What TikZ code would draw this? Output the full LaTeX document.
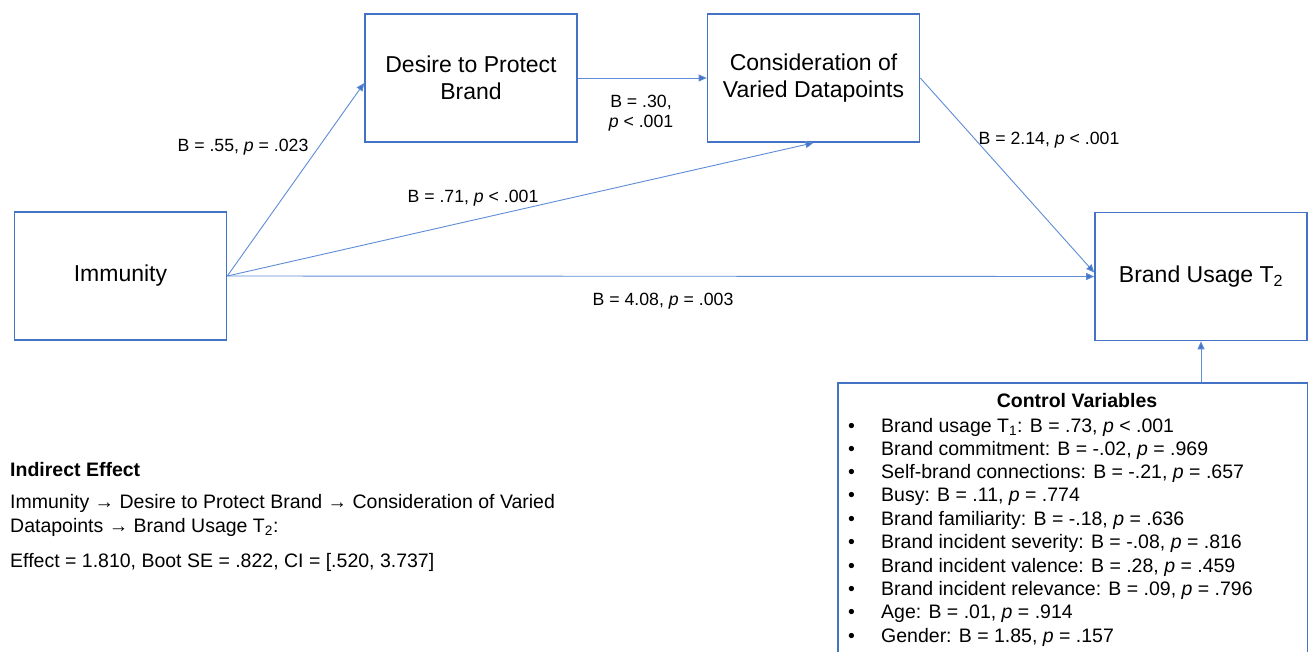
\documentclass[tikz,border=0pt]{standalone}
\usepackage{fontspec}
\setmainfont{Liberation Sans}
\usetikzlibrary{arrows.meta,calc}
\definecolor{boxblue}{RGB}{68,114,196}
\definecolor{lineblue}{RGB}{95,140,215}
\begin{document}
\begin{tikzpicture}[x=1pt,y=-1pt,
 box/.style={draw=boxblue,line width=1.6pt,minimum width=212pt,minimum height=128pt,align=center,font=\fontsize{23}{27}\selectfont,inner sep=0pt},
 link/.style={draw=lineblue,line width=0.9pt,-{Triangle[length=8pt,width=7pt,fill=boxblue]}},
 elabel/.style={font=\fontsize{17.7}{20}\selectfont,inner sep=0pt,align=center},
 ctext/.style={font=\fontsize{19.5}{23}\selectfont,inner sep=0pt,anchor=base west},
 chead/.style={font=\fontsize{19.5}{23}\selectfont\bfseries,inner sep=0pt,anchor=base},
]
\useasboundingbox (0,0) rectangle (1308,651);
\clip (0,0) rectangle (1308,651);
\fill[white] (0,0) rectangle (1308,651);

% boxes
\node[box] (imm) at (120.5,276) {Immunity};
\node[box] (des) at (471,78) {Desire to Protect\\Brand};
\node[box] (con) at (813.5,78) {Consideration of\\Varied Datapoints};
\node[box] (bu) at (1201,276.5) {Brand Usage T\textsubscript{2}};
\node[draw=boxblue,line width=1.6pt,minimum width=470pt,minimum height=300pt,anchor=north west,inner sep=0pt] (ctl) at (837,382) {};

% connectors
\draw[link] (imm.east) -- ([yshift=-5pt]des.west);
\draw[link] (imm.east) -- (con.south);
\draw[link] (imm.east) -- (bu.west);
\draw[link] (des.east) -- (con.west);
\draw[link] (con.east) -- ([yshift=4pt]bu.west);
\draw[link] (ctl.north -| bu.south) -- (bu.south);

% edge labels
\node[elabel] (l1) at (243,147) {B = .55, \textit{p} = .023};
\node[elabel] (l2) at (473,198) {B = .71, \textit{p} < .001};
\node[elabel] (l3) at (641,113) {B = .30,\\\textit{p} < .001};
\node[elabel] (l4) at (1049,140) {B = 2.14, \textit{p} < .001};
\node[elabel] (l5) at (663,301) {B = 4.08, \textit{p} = .003};

% control variables
\node[chead] (ch) at (1077,407) {Control Variables};
\node[ctext] (b1) at (848,432) {•};  \node[ctext] (c1) at (881,432) {Brand usage T\textsubscript{1}: B = .73, \textit{p} < .001};
\node[ctext] (b2) at (848,455) {•};  \node[ctext] (c2) at (881,455) {Brand commitment: B = -.02, \textit{p} = .969};
\node[ctext] (b3) at (848,478) {•};  \node[ctext] (c3) at (881,478) {Self-brand connections: B = -.21, \textit{p} = .657};
\node[ctext] (b4) at (848,501) {•};  \node[ctext] (c4) at (881,501) {Busy: B = .11, \textit{p} = .774};
\node[ctext] (b5) at (848,525) {•};  \node[ctext] (c5) at (881,525) {Brand familiarity: B = -.18, \textit{p} = .636};
\node[ctext] (b6) at (848,548) {•};  \node[ctext] (c6) at (881,548) {Brand incident severity: B = -.08, \textit{p} = .816};
\node[ctext] (b7) at (848,572) {•};  \node[ctext] (c7) at (881,572) {Brand incident valence: B = .28, \textit{p} = .459};
\node[ctext] (b8) at (848,595) {•};  \node[ctext] (c8) at (881,595) {Brand incident relevance: B = .09, \textit{p} = .796};
\node[ctext] (b9) at (848,618) {•};  \node[ctext] (c9) at (881,618) {Age: B = .01, \textit{p} = .914};
\node[ctext] (b10) at (848,642) {•}; \node[ctext] (c10) at (881,642) {Gender: B = 1.85, \textit{p} = .157};

% indirect effect
\node[ctext,font=\fontsize{19.5}{23}\selectfont\bfseries] (ie) at (10,476) {Indirect Effect};
\node[ctext] (ie1) at (10,508) {Immunity → Desire to Protect Brand → Consideration of Varied};
\node[ctext] (ie2) at (10,532) {Datapoints → Brand Usage T\textsubscript{2}:};
\node[ctext] (ie3) at (10,567) {Effect = 1.810, Boot SE = .822, CI = [.520, 3.737]};
\end{tikzpicture}
\end{document}
